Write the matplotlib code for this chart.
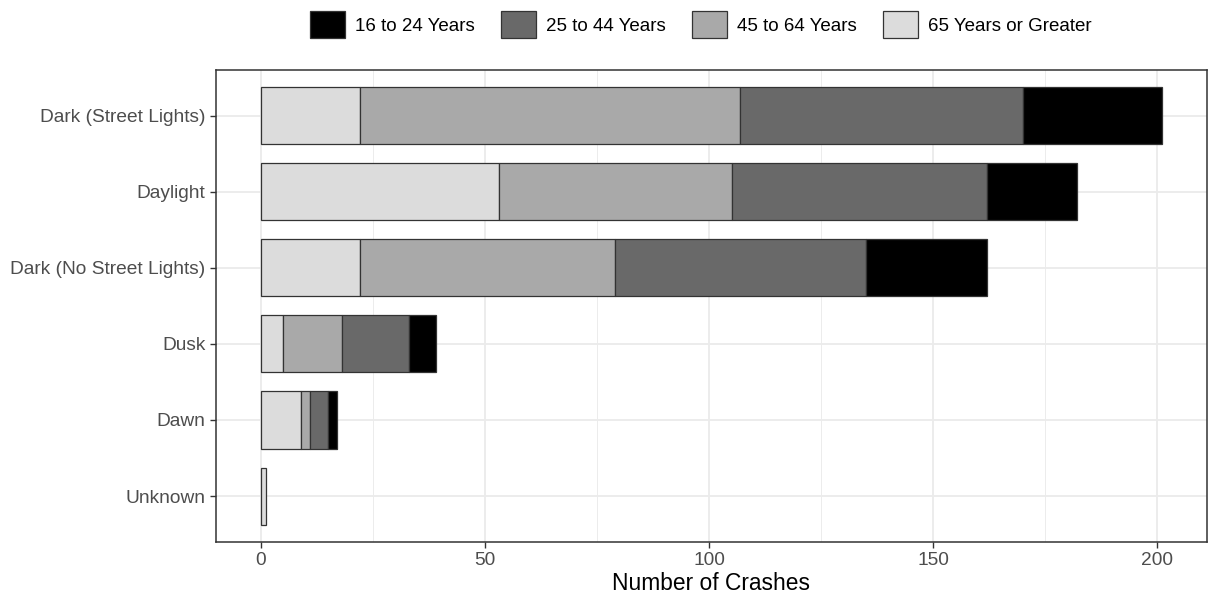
import numpy as np
import matplotlib.pyplot as plt
from matplotlib.patches import Patch

# crash counts by light condition and driver age group
conditions = ["Dark (Street Lights)", "Daylight", "Dark (No Street Lights)", "Dusk", "Dawn", "Unknown"]
age_groups = ["65 Years or Greater", "45 to 64 Years", "25 to 44 Years", "16 to 24 Years"]
age_65_plus = [22, 53, 22, 5, 9, 1]
age_45_64 = [85, 52, 57, 13, 2, 0]
age_25_44 = [63, 57, 56, 15, 4, 0]
age_16_24 = [31, 20, 27, 6, 2, 0]
colors = ["#DCDCDC", "#A9A9A9", "#696969", "#000000"]

legend_order = ["16 to 24 Years", "25 to 44 Years", "45 to 64 Years", "65 Years or Greater"]

plt.rcParams['font.family'] = ['Liberation Sans', 'DejaVu Sans']

fig = plt.figure(figsize=(12.08, 5.99), dpi=100)
W, H = 1208, 599
ax = fig.add_axes([216 / W, 1 - 541.7 / H, (1206.7 - 216) / W, (541.7 - 70) / H])

series = [age_65_plus, age_45_64, age_25_44, age_16_24]
ypos = np.arange(len(conditions))
left = np.zeros(len(conditions))
for vals, col in zip(series, colors):
    vals = np.array(vals, dtype=float)
    keep = vals > 0
    ax.barh(ypos[keep], vals[keep], left=left[keep], height=0.75, color=col,
            edgecolor="#333333", linewidth=0.9, zorder=3)
    left += vals

ax.set_ylim(len(conditions) - 0.4, -0.6)
ax.set_xlim(-10.05, 211.05)
ax.set_yticks(ypos)
ax.set_yticklabels(conditions)
ax.set_xticks([0, 50, 100, 150, 200])
ax.set_xticks([25, 75, 125, 175], minor=True)
ax.grid(True, which="major", color="#EBEBEB", linewidth=1.3, zorder=0)
ax.grid(True, which="minor", axis="x", color="#EBEBEB", linewidth=0.65, zorder=0)
ax.tick_params(axis="both", which="major", labelsize=13.8, labelcolor="#4D4D4D",
               color="#333333", length=4, width=1)
ax.tick_params(axis="x", which="minor", length=0)
for s in ax.spines.values():
    s.set_color("#333333")
    s.set_linewidth(1.1)
ax.set_xlabel("Number of Crashes", fontsize=16.4, labelpad=2)

handles = [Patch(facecolor=colors[age_groups.index(g)], edgecolor="#333333", linewidth=0.9)
           for g in legend_order]
fig.legend(handles, legend_order, loc="center", bbox_to_anchor=(701 / W, 1 - 24.5 / H),
           ncol=4, frameon=False, fontsize=13.5, handlelength=1.85, handleheight=1.85,
           handletextpad=0.55, columnspacing=1.4, borderaxespad=0)

fig.savefig("out.png", dpi=100)
